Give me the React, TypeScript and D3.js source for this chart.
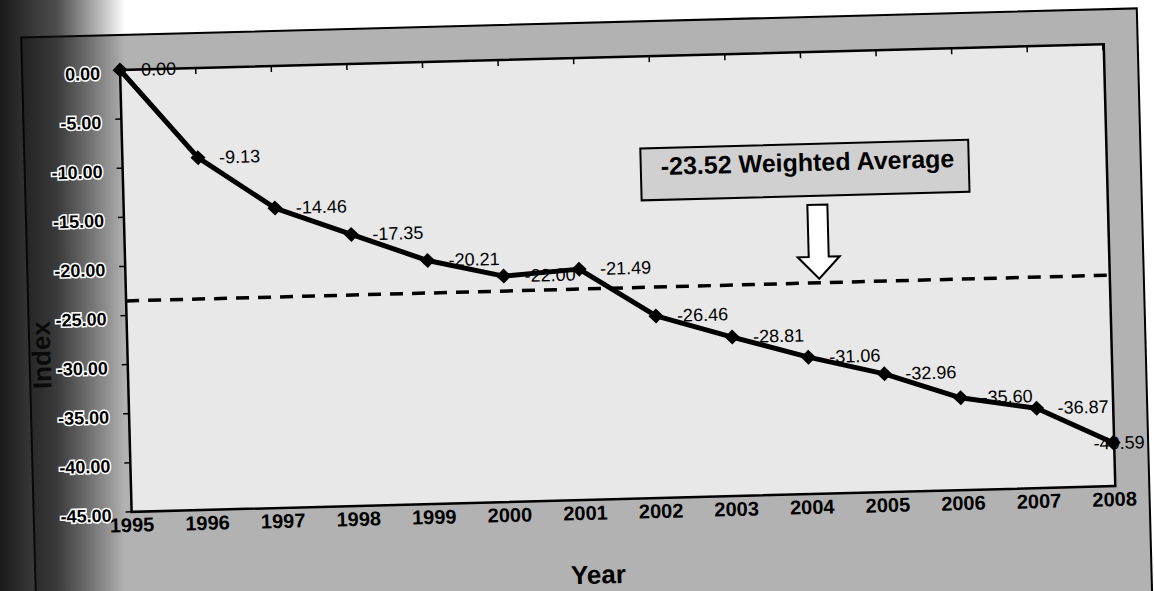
import * as d3 from 'd3';

const years = ['1995', '1996', '1997', '1998', '1999', '2000', '2001', '2002', '2003', '2004', '2005', '2006', '2007', '2008'];
const indexValues = [0, -9.13, -14.46, -17.35, -20.21, -22.0, -21.49, -26.46, -28.81, -31.06, -32.96, -35.6, -36.87, -40.59];
const yTicks = [0, -5, -10, -15, -20, -25, -30, -35, -40, -45];
const weightedAverage = -23.52;
const averageLabel = '-23.52 Weighted Average';

const W = 1154;
const H = 591;
const font = '"Liberation Sans", Arial, Helvetica, sans-serif';

export default function App() {
  const x = d3.scalePoint<string>().domain(years).range([120, 1103]);
  const y = d3.scaleLinear().domain([0, -45]).range([70, 512]);
  const plotLeft = 120;
  const plotRight = 1104;

  const pts = years.map((yr, i) => ({ yr, v: indexValues[i] }));
  const line = d3
    .line<{ yr: string; v: number }>()
    .x((d) => x(d.yr)!)
    .y((d) => y(d.v));

  // hollow arrow pointing at the average line
  const ax = x('2004')! + 13;
  const tip = y(weightedAverage) - 4;
  const arrow = `M${ax - 10},223 L${ax + 10},223 L${ax + 10},275 L${ax + 21},275 L${ax},${tip} L${ax - 21},275 L${ax - 10},275 Z`;

  const diamond = 'M0,-7.5 L7.5,0 L0,7.5 L-7.5,0 Z';
  const rot = 'rotate(-1.5 120 68)';

  return (
    <svg width={W} height={H} style={{ position: 'absolute', left: 0, top: 0 }} fontFamily={font}>
      <defs>
        <linearGradient id="shadow" x1="0" x2="1" y1="0" y2="0">
          <stop offset="0" stopColor="#000" stopOpacity={0.9} />
          <stop offset="0.45" stopColor="#111" stopOpacity={0.75} />
          <stop offset="1" stopColor="#000" stopOpacity={0} />
        </linearGradient>
      </defs>
      <rect width={W} height={H} fill="#fff" />
      <g transform={rot}>
        <rect x={22} y={35} width={1116} height={620} fill="#b2b2b2" stroke="#000" strokeWidth={2} />
        <rect x={plotLeft} y={y(0)} width={plotRight - plotLeft} height={y(-45) - y(0)} fill="#e8e8e8" stroke="#000" strokeWidth={2.5} />

        {/* x axis along zero with ticks */}
        {years.map((yr) => (
          <line key={yr} x1={x(yr)} x2={x(yr)} y1={y(0)} y2={y(0) + 6} stroke="#000" strokeWidth={1.5} />
        ))}
        {yTicks.map((t) => (
          <line key={t} x1={plotLeft - 6} x2={plotLeft} y1={y(t)} y2={y(t)} stroke="#000" strokeWidth={1.5} />
        ))}

        <line x1={plotLeft} x2={plotRight} y1={y(weightedAverage)} y2={y(weightedAverage)} stroke="#000" strokeWidth={3.5} strokeDasharray="13 9" />

        <rect x={638} y={162} width={328} height={52} fill="#d0d0d0" stroke="#000" strokeWidth={2} />
        <text x={658} y={189} fontSize={25} fontWeight="bold" fill="#000">{averageLabel}</text>
        <path d={arrow} fill="#fff" stroke="#000" strokeWidth={2} />

        {pts.map((d, i) => {
          const last = i === pts.length - 1;
          return (
            <text
              key={d.yr}
              x={last ? x(d.yr)! + 6 : x(d.yr)! + 21}
              y={y(d.v)}
              dy="0.35em"
              textAnchor={last ? 'middle' : 'start'}
              fontSize={18}
              fill="#000"
            >
              {d.v.toFixed(2)}
            </text>
          );
        })}

        <path d={line(pts)!} fill="none" stroke="#000" strokeWidth={5} strokeLinejoin="round" />
        {pts.map((d) => (
          <path key={d.yr} d={diamond} transform={`translate(${x(d.yr)},${y(d.v)})`} fill="#000" />
        ))}

        {years.map((yr) => (
          <text key={yr} x={x(yr)} y={532} textAnchor="middle" fontSize={20} fontWeight="bold" fill="#000">
            {yr}
          </text>
        ))}
        <text x={585} y={596} textAnchor="middle" fontSize={26} fontWeight="bold" fill="#000">Year</text>
        <text transform="translate(43,353) rotate(-90)" textAnchor="middle" fontSize={26} fontWeight="bold" fill="#000">Index</text>
      </g>

      <rect x={0} y={0} width={125} height={H} fill="url(#shadow)" />

      <g transform={rot}>
        {yTicks.map((t) => (
          <text
            key={t}
            x={100}
            y={y(t) + 3}
            dy="0.35em"
            textAnchor="end"
            fontSize={18}
            fontWeight="bold"
            fill="#000"
            stroke="#fff"
            strokeWidth={3}
            paintOrder="stroke"
          >
            {t.toFixed(2)}
          </text>
        ))}
      </g>
    </svg>
  );
}
